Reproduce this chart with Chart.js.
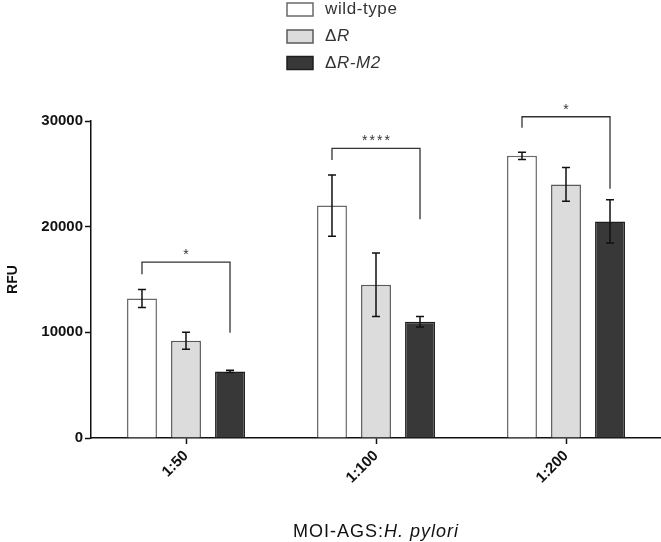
<!DOCTYPE html>
<html>
<head>
<meta charset="utf-8">
<script src="https://cdn.jsdelivr.net/npm/chart.js@4/dist/chart.umd.min.js"></script>
<style>
html,body{margin:0;padding:0;background:#fff;}
#wrap{width:661px;height:542px;}
</style>
</head>
<body>
<div id="wrap"><canvas id="c" width="661" height="542"></canvas></div>
<script>
const categories = ['1:50', '1:100', '1:200'];
const seriesNames = ['wild-type', 'ΔR', 'ΔR-M2'];
const wildType = [13200, 22000, 26700];
const deltaR = [9200, 14500, 24000];
const deltaRM2 = [6300, 11000, 20500];
const wildTypeErr = [850, 2900, 350];
const deltaRErr = [800, 3000, 1600];
const deltaRM2Err = [100, 500, 2050];
const yTickLabels = ['0', '10000', '20000', '30000'];
const yTitle = 'RFU';
const xTitleParts = ['MOI-AGS:', 'H. pylori'];
const bracketTop = [16650, 27400, 30400];
const bracketLeftEnd = [15500, 26300, 29350];
const bracketRightEnd = [9950, 20700, 23600];
const bracketStars = ['*', '****', '*'];

const fills = ['#ffffff', '#dcdcdc', '#383838'];
const borders = ['#6a6a6a', '#5a5a5a', '#1e1e1e'];
const errs = [wildTypeErr, deltaRErr, deltaRM2Err];

function drawMixedLabel(ctx, parts, x, y, size, align) {
  ctx.save();
  ctx.textBaseline = 'middle';
  ctx.textAlign = 'left';
  let widths = parts.map(p => {
    ctx.font = (p[1] ? 'italic ' : '') + size + 'px "Liberation Sans", Arial, sans-serif';
    return ctx.measureText(p[0]).width;
  });
  let total = widths.reduce((a, b) => a + b, 0);
  let cx = align === 'center' ? x - total / 2 : x;
  parts.forEach((p, i) => {
    ctx.font = (p[1] ? 'italic ' : '') + size + 'px "Liberation Sans", Arial, sans-serif';
    ctx.fillText(p[0], cx, y);
    cx += widths[i];
  });
  ctx.restore();
}

function splitSeriesName(name) {
  if (name.startsWith('Δ')) return [['Δ', false], [name.slice(1), true]];
  return [[name, false]];
}

const customPlugin = {
  id: 'custom',
  afterDatasetsDraw(chart) {
    const ctx = chart.ctx;
    const yS = chart.scales.y;
    ctx.save();
    ctx.strokeStyle = '#111';
    ctx.lineWidth = 1.5;
    chart.data.datasets.forEach((ds, di) => {
      const meta = chart.getDatasetMeta(di);
      meta.data.forEach((bar, i) => {
        const v = ds.data[i], e = errs[di][i];
        const yt = yS.getPixelForValue(v + e), yb = yS.getPixelForValue(v - e);
        const x = bar.x;
        ctx.beginPath();
        ctx.moveTo(x, yt); ctx.lineTo(x, yb);
        ctx.moveTo(x - 4, yt); ctx.lineTo(x + 4, yt);
        ctx.moveTo(x - 4, yb); ctx.lineTo(x + 4, yb);
        ctx.stroke();
      });
    });
    ctx.restore();
    ctx.save();
    ctx.strokeStyle = '#333';
    ctx.lineWidth = 1.3;
    ctx.fillStyle = '#333';
    const m0 = chart.getDatasetMeta(0), m2 = chart.getDatasetMeta(2);
    categories.forEach((c, i) => {
      const x1 = m0.data[i].x, x2 = m2.data[i].x;
      const yt = yS.getPixelForValue(bracketTop[i]);
      ctx.beginPath();
      ctx.moveTo(x1, yS.getPixelForValue(bracketLeftEnd[i]));
      ctx.lineTo(x1, yt);
      ctx.lineTo(x2, yt);
      ctx.lineTo(x2, yS.getPixelForValue(bracketRightEnd[i]));
      ctx.stroke();
      ctx.font = '14px "Liberation Sans", Arial, sans-serif';
      ctx.letterSpacing = '2px';
      ctx.textAlign = 'center';
      ctx.textBaseline = 'alphabetic';
      ctx.fillText(bracketStars[i], (x1 + x2) / 2 + 1, yt - 3);
    });
    ctx.restore();
  },
  afterDraw(chart) {
    const ctx = chart.ctx;
    const area = chart.chartArea;
    ctx.save();
    const rowsY = [9.5, 36.5, 63];
    seriesNames.forEach((name, i) => {
      ctx.fillStyle = fills[i];
      ctx.strokeStyle = borders[i];
      ctx.lineWidth = 1.5;
      ctx.fillRect(287, rowsY[i] - 6.5, 26, 13);
      ctx.strokeRect(287, rowsY[i] - 6.5, 26, 13);
      ctx.fillStyle = '#333';
      ctx.letterSpacing = '0.6px';
      drawMixedLabel(ctx, splitSeriesName(name), 325, rowsY[i], 17, 'left');
    });
    ctx.restore();
    ctx.save();
    ctx.translate(13, (area.top + area.bottom) / 2);
    ctx.rotate(-Math.PI / 2);
    ctx.fillStyle = '#111';
    ctx.font = 'bold 14px "Liberation Sans", Arial, sans-serif';
    ctx.textAlign = 'center';
    ctx.textBaseline = 'middle';
    ctx.fillText(yTitle, 0, 0);
    ctx.restore();
    ctx.save();
    ctx.fillStyle = '#111';
    ctx.letterSpacing = '1px';
    drawMixedLabel(ctx, [[xTitleParts[0], false], [xTitleParts[1], true]], (area.left + area.right) / 2, 532, 18, 'center');
    ctx.restore();
  }
};

new Chart(document.getElementById('c'), {
  type: 'bar',
  data: {
    labels: categories,
    datasets: [wildType, deltaR, deltaRM2].map((d, i) => ({
      label: seriesNames[i],
      data: d,
      backgroundColor: fills[i],
      borderColor: borders[i],
      borderWidth: 1.5,
      categoryPercentage: 0.695,
      barPercentage: 0.68
    }))
  },
  options: {
    responsive: false,
    animation: false,
    events: [],
    layout: { padding: { left: 0, right: 0, top: 121, bottom: 0 } },
    plugins: { legend: { display: false }, tooltip: { enabled: false }, title: { display: false } },
    scales: {
      x: {
        afterFit(s) { s.height = 104; },
        grid: { display: true, drawOnChartArea: false, offset: false, tickLength: 6, tickColor: '#111', tickWidth: 1.5 },
        border: { display: true, color: '#111', width: 1.5 },
        ticks: {
          minRotation: 45, maxRotation: 45, padding: 3,
          color: '#111',
          font: { family: '"Liberation Sans", Arial, sans-serif', size: 15, weight: 'bold' }
        }
      },
      y: {
        min: 0, max: 30000,
        afterFit(s) { s.width = 91; },
        grid: { display: true, drawOnChartArea: false, tickLength: 6, tickColor: '#111', tickWidth: 1.5 },
        border: { display: true, color: '#111', width: 1.5 },
        ticks: {
          stepSize: 10000, padding: 2, color: '#111',
          callback: (v, i) => yTickLabels[i],
          font: { family: '"Liberation Sans", Arial, sans-serif', size: 15, weight: 'bold' }
        }
      }
    }
  },
  plugins: [customPlugin]
});
</script>
</body>
</html>
